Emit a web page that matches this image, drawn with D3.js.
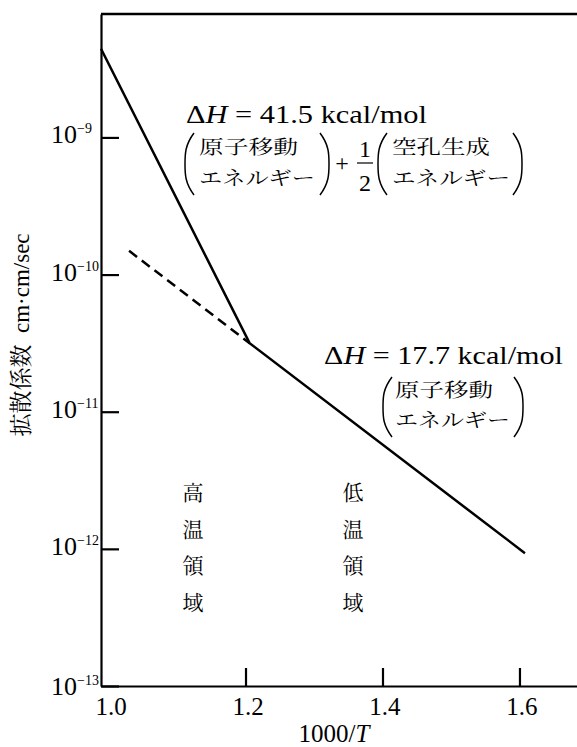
<!DOCTYPE html>
<html><head><meta charset="utf-8">
<script src="https://cdn.jsdelivr.net/npm/d3@7"></script>
</head><body style="margin:0">
<svg id="s" width="577" height="747"></svg>
<script>
// Axis ticks
const xTickValues = [1.0, 1.2, 1.4, 1.6];
const xTickMarks = [1.2, 1.4, 1.6];
const yTickExponents = [-9, -10, -11, -12, -13];

// Diffusion coefficient (cm·cm/sec) vs 1000/T
const solidX = [0.989, 1.206, 1.608];
const solidD = [4.43e-9, 3.16e-11, 9.3e-13];
// Extrapolation of the low-temperature branch into the high-temperature region
const dashedX = [1.030, 1.206];
const dashedD = [1.49e-10, 3.16e-11];

const latinFace = "Liberation Serif";
const kanjiFace = "Noto Serif CJK JP";

const svg = d3.select("#s");

function face(sel, f) {
  return sel.style("font-family", `"${f}", monospace`);
}

const x = d3.scaleLinear().domain([0.989, 1.684]).range([101, 577]);
const y = d3.scaleLog().domain([1e-13, Math.pow(10, -8.1)]).range([686, 14]);

// Left axis with inward ticks
svg.append("g")
  .attr("transform", "translate(101,0)")
  .call(d3.axisLeft(y)
    .tickValues(yTickExponents.map(e => Math.pow(10, e)))
    .tickSize(-18).tickSizeOuter(0).tickFormat(""))
  .call(g => g.selectAll("path, line").attr("stroke", "#000").attr("stroke-width", 2.2));

// Bottom axis with inward ticks
svg.append("g")
  .attr("transform", "translate(0,686)")
  .call(d3.axisBottom(x)
    .tickValues(xTickMarks)
    .tickSize(-18).tickSizeOuter(0).tickFormat(""))
  .call(g => g.selectAll("path, line").attr("stroke", "#000").attr("stroke-width", 2.2));

// Top frame line
svg.append("line")
  .attr("x1", x.range()[0]).attr("x2", x.range()[1])
  .attr("y1", y.range()[1]).attr("y2", y.range()[1])
  .attr("stroke", "#000").attr("stroke-width", 2.5);

// Data lines
const line = d3.line().x(d => x(d[0])).y(d => y(d[1]));
svg.append("path")
  .datum(d3.zip(solidX, solidD))
  .attr("d", line)
  .attr("fill", "none").attr("stroke", "#000").attr("stroke-width", 2.5);
svg.append("path")
  .datum(d3.zip(dashedX, dashedD))
  .attr("d", line)
  .attr("fill", "none").attr("stroke", "#000").attr("stroke-width", 2.5)
  .attr("stroke-dasharray", "10,6");

// X tick labels
xTickValues.forEach(v => {
  face(svg.append("text"), latinFace)
    .attr("x", x(v) + 2.5).attr("y", 715)
    .attr("text-anchor", "middle").attr("font-size", 25)
    .text(v.toFixed(1));
});

// Y tick labels: 10 with a superscript exponent
yTickExponents.forEach(e => {
  const t = face(svg.append("text"), latinFace)
    .attr("x", 51)
    .attr("y", y(Math.pow(10, e)) + (e === -13 ? 9 : 6))
    .attr("font-size", 26);
  t.append("tspan").text("10");
  t.append("tspan").attr("dy", -10).attr("font-size", 14).text("\u2212" + Math.abs(e));
});

function jp(str, x0, base, width) {
  face(svg.append("text"), kanjiFace)
    .attr("x", x0).attr("y", base).attr("font-size", 19)
    .attr("textLength", width).attr("lengthAdjust", "spacingAndGlyphs")
    .text(str);
}
function paren(x0, top, bottom, side) {
  // side: 1 = opening "(", -1 = closing ")"
  const w = 9;
  const xa = side > 0 ? x0 + w : x0;
  const xb = side > 0 ? x0 : x0 + w;
  const mid = (top + bottom) / 2;
  svg.append("path")
    .attr("d", `M${xa},${top} C${xb},${top + 12} ${xb},${mid - 10} ${xb},${mid} C${xb},${mid + 10} ${xb},${bottom - 12} ${xa},${bottom}`)
    .attr("fill", "none").attr("stroke", "#000").attr("stroke-width", 1.5);
}
function dH(value, x0, base, width) {
  const t = face(svg.append("text"), latinFace)
    .attr("x", x0).attr("y", base).attr("font-size", 26)
    .attr("textLength", width).attr("lengthAdjust", "spacingAndGlyphs");
  t.append("tspan").text("\u0394");
  t.append("tspan").attr("font-style", "italic").text("H");
  t.append("tspan").text(" = " + value + "  kcal/mol");
}
function sym(str, cx, base) {
  face(svg.append("text"), latinFace)
    .attr("x", cx).attr("y", base)
    .attr("text-anchor", "middle").attr("font-size", 24).text(str);
}

// High-temperature activation energy
dH("41.5", 186, 123, 241);
paren(185, 133, 195, 1);
jp("原子移動", 199, 154, 99);
jp("エネルギー", 199, 185, 116);
paren(320, 133, 195, -1);
sym("+", 342, 171);
sym("1", 365, 157);
svg.append("line").attr("x1", 357).attr("x2", 373).attr("y1", 163).attr("y2", 163)
  .attr("stroke", "#000").attr("stroke-width", 1.2);
sym("2", 365, 191);
paren(378, 133, 195, 1);
jp("空孔生成", 392, 154, 98);
jp("エネルギー", 392, 185, 118);
paren(513, 133, 195, -1);

// Low-temperature activation energy
dH("17.7", 324, 364, 239);
paren(383, 377, 437, 1);
jp("原子移動", 395, 397, 98);
jp("エネルギー", 395, 427, 115);
paren(514, 377, 437, -1);

// Region labels, written vertically
const regionChars = ["温", "領", "域"];
[["高", 193], ["低", 353]].forEach(([first, cx]) => {
  [first, ...regionChars].forEach((ch, i) => {
    face(svg.append("text"), kanjiFace)
      .attr("x", cx).attr("y", 500 + i * 36.5)
      .attr("text-anchor", "middle").attr("font-size", 21)
      .text(ch);
  });
});

// Axis titles
const yt = face(svg.append("text"), latinFace)
  .attr("transform", "translate(29,335) rotate(-90)")
  .attr("text-anchor", "middle").attr("font-size", 23);
face(yt.append("tspan"), kanjiFace).text("拡散係数");
yt.append("tspan").text("\u2002cm\u00b7cm/sec");

const xt = face(svg.append("text"), latinFace)
  .attr("x", 334).attr("y", 742).attr("text-anchor", "middle").attr("font-size", 25);
xt.append("tspan").text("1000/");
xt.append("tspan").attr("font-style", "italic").text("T");
</script></body></html>
